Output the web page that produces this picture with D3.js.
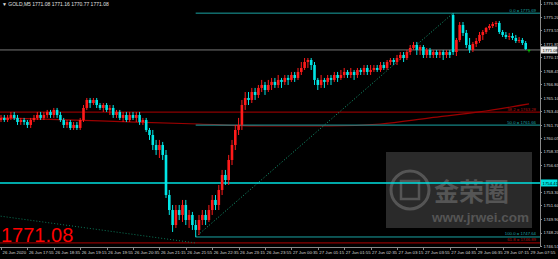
<!DOCTYPE html>
<html>
<head>
    <script src="https://cdnjs.cloudflare.com/ajax/libs/d3/7.8.5/d3.min.js"></script>
    <style>
        body { margin: 0; background: #000; }
        svg { display: block; background: #000; }
        .axis text { font-family: "Liberation Sans", Arial, sans-serif; font-size: 4.3px; fill: #d8d8d8; }
        .axis path, .axis line { stroke: #8a8a8a; shape-rendering: crispEdges; }
    </style>
</head>
<body>
    <div id="chart"></div>
    <script>
        const width = 558, height = 259;

        // GOLD,M5 candles
        const open = [1762.30,1762.56,1762.30,1762.56,1762.93,1762.56,1762.05,1762.30,1762.05,1761.68,
            1762.30,1762.56,1762.93,1762.56,1762.93,1763.31,1762.93,1763.56,1762.93,1762.30,
            1761.68,1762.05,1761.30,1761.68,1761.30,1762.30,1763.81,1764.81,1764.43,1764.81,
            1764.18,1763.81,1764.18,1763.56,1763.81,1762.93,1763.31,1762.56,1762.93,1762.30,
            1762.93,1762.56,1762.93,1762.05,1762.30,1761.05,1760.42,1759.17,1758.54,1759.17,
            1757.92,1752.90,1751.02,1749.14,1751.02,1750.40,1751.65,1749.77,1750.40,1749.14,
            1748.52,1749.77,1750.40,1749.77,1751.02,1752.28,1751.65,1753.53,1755.41,1754.78,
            1757.29,1759.17,1761.05,1761.68,1764.18,1765.06,1764.81,1765.81,1765.44,1766.32,
            1766.69,1766.06,1766.69,1767.07,1766.69,1767.32,1767.07,1767.57,1767.32,1767.94,
            1767.57,1768.32,1768.82,1769.57,1769.82,1769.19,1767.32,1766.69,1767.32,1767.07,
            1767.57,1767.32,1767.94,1767.57,1767.94,1768.32,1767.94,1768.32,1767.94,1768.57,
            1768.32,1768.82,1768.32,1768.57,1768.82,1768.57,1769.19,1768.82,1769.57,1769.82,
            1769.57,1770.07,1770.45,1770.07,1770.82,1771.33,1771.70,1771.08,1771.45,1770.45,
            1771.08,1770.45,1770.82,1770.45,1770.82,1770.45,1770.82,1775.46,1770.82,1772.33,
            1774.21,1773.21,1771.70,1771.08,1771.83,1772.20,1772.96,1773.33,1773.83,1774.08,
            1774.33,1774.46,1773.33,1772.96,1772.70,1772.83,1772.58,1772.20,1772.33,1771.95,
            1771.08];
        const high = [1762.93,1762.93,1762.93,1763.31,1763.31,1762.93,1762.56,1762.56,1762.30,1762.56,
            1762.93,1763.31,1763.31,1763.31,1763.56,1763.56,1763.81,1763.81,1763.31,1762.56,
            1762.30,1762.30,1762.05,1762.05,1762.56,1764.18,1765.06,1765.06,1765.06,1765.06,
            1764.43,1764.43,1764.43,1764.18,1764.18,1763.56,1763.56,1763.31,1763.31,1763.31,
            1763.31,1763.31,1763.31,1762.56,1762.56,1761.30,1761.05,1759.80,1759.80,1759.55,
            1758.54,1753.53,1751.65,1751.65,1751.65,1752.28,1752.28,1751.02,1750.78,1749.77,
            1750.40,1751.02,1751.02,1751.65,1752.90,1752.90,1754.16,1756.04,1756.04,1757.92,
            1759.80,1761.68,1762.56,1764.81,1765.81,1765.81,1766.32,1766.32,1766.69,1767.32,
            1767.07,1767.32,1767.57,1767.57,1767.94,1767.57,1767.94,1767.94,1768.32,1768.32,
            1768.82,1769.57,1770.07,1770.07,1770.07,1769.57,1767.57,1767.94,1767.57,1767.94,
            1767.94,1768.32,1768.32,1768.57,1768.82,1768.57,1768.82,1768.57,1768.82,1768.82,
            1769.19,1769.19,1769.19,1769.19,1769.19,1769.57,1769.57,1769.82,1770.07,1770.07,
            1770.45,1770.82,1770.82,1771.08,1771.70,1772.08,1772.08,1771.70,1771.70,1771.33,
            1771.33,1771.08,1771.08,1771.08,1771.08,1771.08,1771.08,1775.69,1772.58,1774.58,
            1774.58,1773.58,1772.58,1772.08,1772.58,1773.33,1773.58,1773.96,1774.33,1774.58,
            1774.71,1774.71,1773.58,1773.33,1773.21,1773.21,1772.96,1772.70,1772.58,1772.20,
            1771.16];
        const low = [1762.05,1762.05,1762.05,1762.30,1762.30,1761.68,1761.68,1761.68,1761.30,1761.30,
            1762.05,1762.30,1762.30,1762.30,1762.56,1762.56,1762.56,1762.56,1762.05,1761.30,
            1761.30,1761.05,1761.05,1761.05,1761.05,1762.05,1763.56,1763.81,1764.18,1763.81,
            1763.56,1763.31,1763.31,1762.93,1762.56,1762.56,1762.30,1762.05,1762.05,1762.05,
            1762.30,1762.05,1761.68,1761.68,1760.80,1759.80,1758.54,1757.92,1757.54,1757.29,
            1752.53,1750.40,1748.27,1748.77,1749.77,1749.52,1749.14,1748.77,1748.52,1747.64,
            1747.89,1749.14,1749.14,1749.52,1750.40,1751.02,1751.02,1752.90,1754.16,1754.16,
            1756.66,1758.54,1760.42,1761.05,1763.56,1764.18,1764.43,1764.81,1765.06,1765.81,
            1765.44,1765.81,1766.06,1766.32,1766.32,1766.32,1766.69,1766.69,1767.07,1767.07,
            1767.32,1767.94,1768.57,1768.82,1768.57,1766.69,1766.06,1766.32,1766.32,1766.69,
            1766.69,1767.07,1767.07,1767.32,1767.57,1767.57,1767.57,1767.32,1767.57,1767.94,
            1767.94,1767.94,1767.94,1768.32,1768.32,1768.32,1768.57,1768.57,1769.19,1769.19,
            1769.19,1769.82,1769.57,1769.82,1770.45,1771.08,1770.45,1770.45,1770.07,1770.07,
            1770.07,1770.07,1770.07,1770.07,1769.82,1770.07,1770.07,1770.45,1770.32,1772.08,
            1772.83,1771.33,1770.70,1770.82,1771.45,1771.95,1772.33,1773.08,1773.58,1773.83,
            1773.96,1773.08,1772.70,1772.45,1772.33,1772.33,1771.95,1771.95,1771.70,1771.08,
            1770.77];
        const close = [1762.56,1762.30,1762.56,1762.93,1762.56,1762.05,1762.30,1762.05,1761.68,1762.30,
            1762.56,1762.93,1762.56,1762.93,1763.31,1762.93,1763.56,1762.93,1762.30,1761.68,
            1762.05,1761.30,1761.68,1761.30,1762.30,1763.81,1764.81,1764.43,1764.81,1764.18,
            1763.81,1764.18,1763.56,1763.81,1762.93,1763.31,1762.56,1762.93,1762.30,1762.93,
            1762.56,1762.93,1762.05,1762.30,1761.05,1760.42,1759.17,1758.54,1759.17,1757.92,
            1752.90,1751.02,1749.14,1751.02,1750.40,1751.65,1749.77,1750.40,1749.14,1748.52,
            1749.77,1750.40,1749.77,1751.02,1752.28,1751.65,1753.53,1755.41,1754.78,1757.29,
            1759.17,1761.05,1761.68,1764.18,1765.06,1764.81,1765.81,1765.44,1766.32,1766.69,
            1766.06,1766.69,1767.07,1766.69,1767.32,1767.07,1767.57,1767.32,1767.94,1767.57,
            1768.32,1768.82,1769.57,1769.82,1769.19,1767.32,1766.69,1767.32,1767.07,1767.57,
            1767.32,1767.94,1767.57,1767.94,1768.32,1767.94,1768.32,1767.94,1768.57,1768.32,
            1768.82,1768.32,1768.57,1768.82,1768.57,1769.19,1768.82,1769.57,1769.82,1769.57,
            1770.07,1770.45,1770.07,1770.82,1771.33,1771.70,1771.08,1771.45,1770.45,1771.08,
            1770.45,1770.82,1770.45,1770.82,1770.45,1770.82,1770.45,1770.82,1772.33,1774.21,
            1773.21,1771.70,1771.08,1771.83,1772.20,1772.96,1773.33,1773.83,1774.08,1774.33,
            1774.46,1773.33,1772.96,1772.70,1772.83,1772.58,1772.20,1772.33,1771.95,1771.20,
            1771.08];

        // slow moving average, a few points
        const maIndex = [0, 30, 60, 80, 100, 115, 130, 145, 160];
        const maValue = [1762.56, 1762.18, 1761.80, 1761.55, 1761.55, 1761.80, 1762.56, 1763.31, 1764.31];

        const priceTicks = [1776.90,1775.20,1773.55,1771.85,1770.15,1768.45,1766.80,1765.10,1763.40,1761.70,
            1760.05,1758.35,1756.65,1753.30,1751.60,1749.90,1748.20,1746.51];
        const timeTicks = d3.range(0, 161, 8);
        const timeLabels = ["26 Jun 2020","26 Jun 17:55","26 Jun 18:35","26 Jun 19:15","26 Jun 19:55","26 Jun 20:35",
            "26 Jun 21:15","26 Jun 21:55","26 Jun 22:35","26 Jun 23:15","26 Jun 23:55","27 Jun 00:35","27 Jun 01:15",
            "27 Jun 01:55","27 Jun 02:35","27 Jun 03:15","27 Jun 03:55","27 Jun 04:35","29 Jun 06:35","29 Jun 07:15","29 Jun 07:55"];

        // fibo levels (teal from the low to the spike high), red levels and a line object
        const fiboLevels = [{ name: "0.0", value: 1775.69 }, { name: "50.0", value: 1761.66 }, { name: "100.0", value: 1747.64 }];
        const redLevels = [{ name: "38.2", value: 1763.28 }, { name: "61.8", value: 1746.89 }];
        const hLinePrice = 1754.41;
        const lastPrice = 1771.08;

        const plotRight = 540, plotBottom = 247;
        const x = d3.scaleLinear().domain([0, 160]).range([1, 529]);
        const y = d3.scaleLinear().domain([1746.51, 1776.90]).range([246, 3.5]);

        const svg = d3.select("#chart").append("svg").attr("width", width).attr("height", height);

        // watermark
        const wm = svg.append("g");
        wm.append("rect").attr("x", 386).attr("y", 152).attr("width", 146).attr("height", 76).attr("fill", "#2a2a2a");
        wm.append("circle").attr("cx", 410).attr("cy", 190).attr("r", 19).attr("fill", "none").attr("stroke", "#555").attr("stroke-width", 3);
        wm.append("rect").attr("x", 401).attr("y", 181).attr("width", 18).attr("height", 18).attr("fill", "none").attr("stroke", "#555").attr("stroke-width", 2.5);
        wm.append("text").attr("x", 434).attr("y", 201).text("金荣圈")
            .style("font-family", "'Noto Sans CJK SC'").style("font-size", "25px").style("font-weight", "bold").attr("fill", "#555");
        wm.append("text").attr("x", 432).attr("y", 222).text("www.jrwei.com")
            .style("font-family", "'Liberation Sans', Arial").style("font-size", "13.5px").style("font-weight", "bold").attr("fill", "#555");

        const candles = d3.range(open.length).map(i => ({ i, o: open[i], h: high[i], l: low[i], c: close[i] }));
        const colorOf = d => d.c > d.o ? "#ff1a1a" : d.c < d.o ? "#00e6e6" : "#00c000";

        // red levels across the chart
        svg.append("g").selectAll("line").data(redLevels).enter().append("line")
            .attr("x1", 0).attr("x2", plotRight)
            .attr("y1", d => y(d.value)).attr("y2", d => y(d.value))
            .attr("stroke", "#8b0000").attr("stroke-width", 1.2);

        // dotted trend line of the red fibo
        svg.append("line")
            .attr("x1", x(-1)).attr("y1", y(1750.30)).attr("x2", x(59)).attr("y2", y(1746.89))
            .attr("stroke", "#0b7a5a").attr("stroke-dasharray", "1,2");

        // moving average
        svg.append("path")
            .datum(maIndex.map((d, k) => [d, maValue[k]]))
            .attr("fill", "none").attr("stroke", "#9b0000").attr("stroke-width", 1.2)
            .attr("d", d3.line().x(d => x(d[0])).y(d => y(d[1])).curve(d3.curveMonotoneX));

        // fibo levels and trend line
        svg.append("g").selectAll("line").data(fiboLevels).enter().append("line")
            .attr("x1", x(59)).attr("x2", plotRight)
            .attr("y1", d => y(d.value)).attr("y2", d => y(d.value))
            .attr("stroke", "#1aa3a3").attr("stroke-width", 1);
        svg.append("line")
            .attr("x1", x(59)).attr("y1", y(1747.64)).attr("x2", x(137)).attr("y2", y(1775.69))
            .attr("stroke", "#16a37a").attr("stroke-dasharray", "1,2");

        // bid line and horizontal line object
        svg.append("line").attr("x1", 0).attr("x2", plotRight).attr("y1", y(lastPrice)).attr("y2", y(lastPrice))
            .attr("stroke", "#777").attr("stroke-width", 1);
        svg.append("line").attr("x1", 0).attr("x2", plotRight).attr("y1", y(hLinePrice)).attr("y2", y(hLinePrice))
            .attr("stroke", "#00e0e0").attr("stroke-width", 1.5);

        // candles
        const cg = svg.append("g");
        cg.selectAll("line").data(candles).enter().append("line")
            .attr("x1", d => x(d.i)).attr("x2", d => x(d.i))
            .attr("y1", d => y(d.h)).attr("y2", d => y(d.l))
            .attr("stroke", colorOf).attr("stroke-width", 1);
        cg.selectAll("rect").data(candles).enter().append("rect")
            .attr("x", d => x(d.i) - 1.3).attr("width", 2.6)
            .attr("y", d => y(Math.max(d.o, d.c)))
            .attr("height", d => Math.max(1, Math.abs(y(d.o) - y(d.c))))
            .attr("fill", colorOf);

        // level labels
        const labFont = "'Liberation Sans', Arial, sans-serif";
        svg.append("g").selectAll("text").data(fiboLevels).enter().append("text")
            .attr("x", 536).attr("y", d => y(d.value) - 1.5).attr("text-anchor", "end")
            .text(d => d.name + " = " + d.value.toFixed(2))
            .style("font-family", labFont).style("font-size", "4.3px").attr("fill", "#1aa3a3");
        svg.append("g").selectAll("text").data(redLevels).enter().append("text")
            .attr("x", 536).attr("y", d => y(d.value) - 1.5).attr("text-anchor", "end")
            .text(d => d.name + " = " + d.value.toFixed(2))
            .style("font-family", labFont).style("font-size", "4.3px").attr("fill", "#b01010");

        // axes
        const yAxis = svg.append("g").attr("class", "axis").attr("transform", `translate(${plotRight},0)`)
            .call(d3.axisRight(y).tickValues(priceTicks).tickSize(2).tickFormat(d3.format(".2f")));
        yAxis.select(".domain").attr("d", `M0,0V${plotBottom}`);
        yAxis.selectAll("text").attr("x", 3.5);

        const xAxis = svg.append("g").attr("class", "axis").attr("transform", `translate(0,${plotBottom})`)
            .call(d3.axisBottom(x).tickValues(timeTicks).tickSize(2.5).tickFormat((d, k) => timeLabels[k]));
        xAxis.select(".domain").attr("d", `M0,0H${plotRight}`);
        xAxis.selectAll("text").attr("text-anchor", "start").attr("dx", "1").attr("y", 4);

        // price boxes on the right axis
        const boxes = [{ v: lastPrice, bg: "#e8e8e8", fg: "#000" }, { v: hLinePrice, bg: "#00e0e0", fg: "#000" }];
        boxes.forEach(b => {
            svg.append("rect").attr("x", plotRight + 1).attr("y", y(b.v) - 3.5).attr("width", 16.5).attr("height", 7).attr("fill", b.bg);
            svg.append("text").attr("x", plotRight + 2.5).attr("y", y(b.v) + 1.6).text(b.v.toFixed(2))
                .style("font-family", labFont).style("font-size", "4.3px").attr("fill", b.fg);
        });

        // header and big price
        svg.append("text").attr("x", 2).attr("y", 6)
            .text("▼ GOLD,M5  1771.08 1771.16 1770.77 1771.08")
            .style("font-family", labFont).style("font-size", "5px").attr("fill", "#e0e0e0");
        svg.append("text").attr("x", 1).attr("y", 242).text(lastPrice.toFixed(2))
            .style("font-family", labFont).style("font-size", "20px").attr("fill", "#ff0000");
    </script>
</body>
</html>
